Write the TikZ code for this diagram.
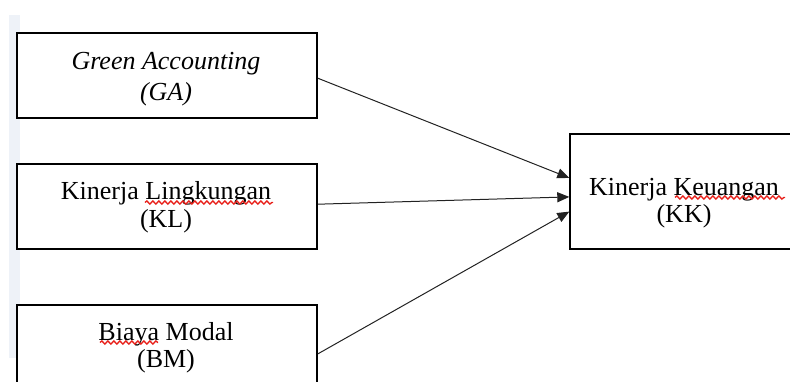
\documentclass[tikz,border=0pt]{standalone}
\usepackage{fontspec}
\setmainfont{Liberation Serif}
\usetikzlibrary{arrows.meta,decorations.pathmorphing}
\definecolor{marginstrip}{HTML}{EEF2F8}
\definecolor{linkgray}{HTML}{222222}
\definecolor{spellred}{HTML}{E8201A}
\begin{document}
\begin{tikzpicture}[x=1pt,y=-1pt,
  varbox/.style={draw=black,line width=1.8pt,minimum width=300pt,minimum height=85pt,
                 inner sep=0pt,anchor=north west,fill=white},
  vartext/.style={font=\fontsize{26}{30}\selectfont,anchor=base,inner sep=0pt},
  link/.style={draw=linkgray,line width=1pt,-{Triangle[length=12pt,width=10pt]}},
  squiggle/.style={draw=spellred,line width=1.3pt,decorate,
                   decoration={snake,amplitude=1.6pt,segment length=6pt}}
]
\useasboundingbox (0,0) rectangle (790,381);
\clip (0,0) rectangle (790,381);

% page margin strip
\fill[marginstrip] (9,15) rectangle (20,358);

% variable boxes
\node[varbox] (ga) at (16,32.3) {};
\node[varbox] (kl) at (16,163.3) {};
\node[varbox] (bm) at (16,304.3) {};
\node[varbox,minimum width=235pt,minimum height=115pt] (kk) at (569.3,133.3) {};

% box texts
\node[vartext] (ga1) at (166,69) {\textit{Green Accounting}};
\node[vartext] (ga2) at (166,100.5) {\textit{(GA)}};
\node[vartext] (kl1) at (166,199.5) {Kinerja Lingkungan};
\node[vartext] (kl2) at (166,227.5) {(KL)};
\node[vartext] (bm1) at (166,340) {Biaya Modal};
\node[vartext] (bm2) at (166,367.5) {(BM)};
\node[vartext] (kk1) at (684,195) {Kinerja Keuangan};
\node[vartext] (kk2) at (684,222.5) {(KK)};

% spell-check underlines
\draw[squiggle] (145,202.5) -- (273,202.5);
\draw[squiggle] (675,197.5) -- (785,197.5);
\draw[squiggle] (100,342.5) -- (158,342.5);

% connectors
\draw[link] ([yshift=-2.5pt]ga.east) -- ([yshift=13.8pt]kk.west);
\draw[link] ([yshift=2.5pt]kl.east) -- ([yshift=-5.2pt]kk.west);
\draw[link] ([yshift=-6.2pt]bm.east) -- ([yshift=-19.9pt]kk.west);
\end{tikzpicture}
\end{document}
